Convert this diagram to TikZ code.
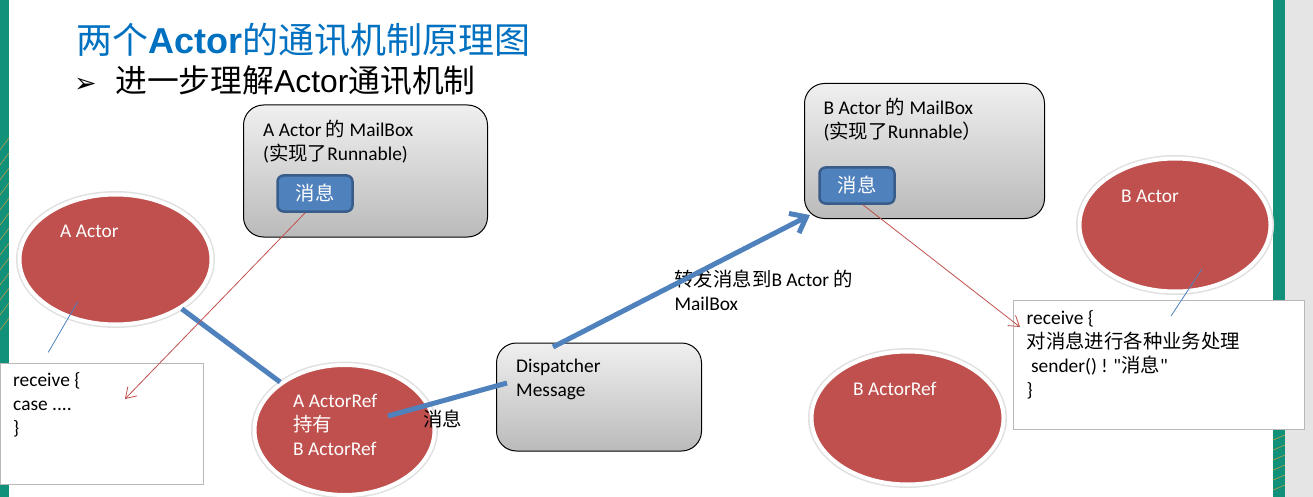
\documentclass[tikz,border=0pt]{standalone}
\usepackage{fontspec}
\setmainfont{Carlito}
\newfontfamily\cjk{Noto Sans CJK SC}
\newfontfamily\arialf{Liberation Sans}
\newfontfamily\dejavu{DejaVu Sans}
\usetikzlibrary{shapes.geometric,arrows.meta}

\definecolor{actorred}{HTML}{C0504D}
\definecolor{msgblue}{HTML}{4F81BD}
\definecolor{msgedge}{HTML}{385D8A}
\definecolor{titleblue}{HTML}{0070C0}
\definecolor{slideteal}{HTML}{12917A}
\definecolor{slideorange}{HTML}{F2A33A}

\begin{document}
\begin{tikzpicture}
  [x=1pt,y=-1pt,
   every node/.style={font=\fontsize{19.4}{24}\selectfont},
   actor/.style={ellipse,fill=actorred,draw=white,line width=4pt,inner sep=0pt,
     preaction={draw=black!12,line width=7pt}},
   mailbox/.style={rectangle,rounded corners=20pt,draw=black,line width=1pt,
     top color=black!6,bottom color=black!27,inner sep=0pt},
   msgbox/.style={rectangle,rounded corners=6pt,fill=msgblue,draw=msgedge,line width=2.5pt,
     text=white,minimum width=75pt,minimum height=36pt},
   codebox/.style={rectangle,draw=black!28,fill=white,line width=0.8pt,inner sep=0pt},
   txt/.style={anchor=base west,align=left,inner sep=0pt},
   intxt/.style={txt,text=white},
   bigflow/.style={msgblue,line width=5pt},
   reply/.style={actorred,line width=0.8pt,-{Straight Barb[length=10pt,width=13pt]}},
   owner/.style={msgblue,line width=0.8pt}]
  \useasboundingbox (0,0) rectangle (1313,497);

  % slide edges
  \fill[slideteal] (0,0) rectangle (9,497);
  \foreach \y in {150,165,...,330}
    \draw[slideorange] (0,\y) -- (9,\y-12);
  \fill[slideteal] (1273,0) rectangle (1285,497);
  \foreach \y in {440,450,...,497}
    \draw[slideorange] (1273,\y) -- (1285,\y-5);
  \fill[black!10] (1285,0) rectangle (1313,497);

  % headings
  \node[txt,font=\fontsize{36}{40}\selectfont,text=titleblue] (title) at (76,54)
    {{\cjk 两个}{\arialf\bfseries Actor}{\cjk 的通讯机制原理图}};
  \node[txt,font=\dejavu\fontsize{27}{27}\selectfont] (bullet) at (74,93) {➢};
  \node[txt,font=\fontsize{31.8}{34}\selectfont] (subtitle) at (115,93)
    {{\cjk 进一步理解}{\arialf Actor}{\cjk 通讯机制}};

  % receive blocks
  \node[codebox,minimum width=203pt,minimum height=121pt] (lcode) at (101.5,423.5) {};
  \node[codebox,minimum width=291pt,minimum height=129pt] (rcode) at (1158.5,364.5) {};

  % mailboxes and dispatcher
  \node[mailbox,minimum width=244pt,minimum height=132pt] (amailbox) at (365.5,171) {};
  \node[mailbox,minimum width=240pt,minimum height=135pt] (bmailbox) at (924.5,151) {};
  \node[mailbox,minimum width=205pt,minimum height=108pt] (disp) at (599,397) {};
  \node[msgbox] (amsg) at (315,193.5) {\cjk 消息};
  \node[msgbox] (bmsg) at (857,185.5) {\cjk 消息};

  % actors
  \node[actor,minimum width=192pt,minimum height=130pt] (aactor) at (115.5,259.5) {};
  \node[actor,minimum width=180pt,minimum height=130pt] (aref) at (344.5,430) {};
  \node[actor,minimum width=192pt,minimum height=133pt] (bref) at (907.5,418) {};
  \node[actor,minimum width=191pt,minimum height=133pt] (bactor) at (1175,225) {};

  % texts (multi-line ones sit on their last baseline)
  \node[txt] (amailtext) at (263,160.5) {A Actor {\cjk 的} MailBox\\({\cjk 实现了}Runnable)};
  \node[txt] (bmailtext) at (823.5,139) {B Actor {\cjk 的} MailBox\\({\cjk 实现了}Runnable{\cjk ）}};
  \node[txt] (disptext) at (516,396.7) {Dispatcher\\Message};
  \node[intxt] (aactortext) at (60,237) {A Actor};
  \node[intxt] (areftext) at (293,455) {A ActorRef\\{\cjk 持有}\\B ActorRef};
  \node[intxt] (breftext) at (853,395.5) {B ActorRef};
  \node[intxt] (bactortext) at (1121,202) {B Actor};
  \node[txt] (lcodetext) at (13,434) {receive \{\\case ....\\\}};
  \node[txt] (rcodetext) at (1026.5,396.5)
    {receive \{\\{\cjk 对消息进行各种业务处理}\\\ sender() ! \textquotedbl{\cjk 消息}\textquotedbl\\\}};
  \node[txt] (msglabel) at (423,426) {\cjk 消息};
  \node[txt] (fwdlabel) at (674.3,310) {{\cjk 转发消息到}B Actor {\cjk 的}\\MailBox};

  % connector ends
  \coordinate (refout) at (388,416);
  \coordinate (dispin) at (507,383);
  \coordinate (dispout) at (553,347);
  \coordinate (bmailin) at (810,215);
  \coordinate (lcatch) at (125,399);
  \coordinate (rcatch) at (1020,327);
  \coordinate (aactorfoot) at (77.7,301.7);
  \coordinate (lcodetop) at (48.3,352.3);
  \coordinate (bactorfoot) at (1202,269);
  \coordinate (rcodein) at (1171,316);

  \draw[bigflow] (aactor) -- (aref);
  \draw[bigflow] (refout) -- (dispin);
  \draw[bigflow,-{Straight Barb[length=14pt,width=22pt]}] (dispout) -- (bmailin);

  \draw[reply] (amsg.-117) -- (lcatch);
  \draw[reply] (bmsg.-73) -- (rcatch);

  \draw[owner] (aactorfoot) -- (lcodetop);
  \draw[owner] (bactorfoot) -- (rcodein);
\end{tikzpicture}
\end{document}
